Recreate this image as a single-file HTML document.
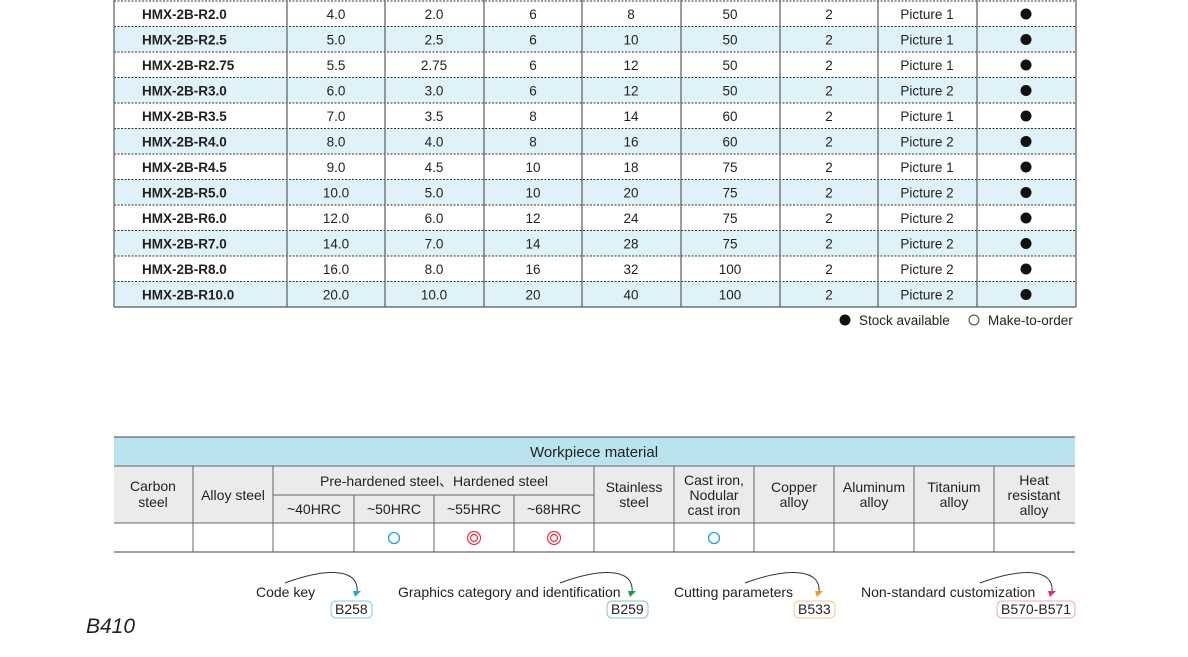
<!DOCTYPE html>
<html><head><meta charset="utf-8"><style>
html,body{margin:0;padding:0;background:#fff;}
svg text{font-family:"Liberation Sans","Noto Sans CJK SC",sans-serif;fill:#231f20;}
</style></head><body>
<svg width="1188" height="652" viewBox="0 0 1188 652" xmlns="http://www.w3.org/2000/svg">
<g id="top">
<!-- rows -->
<g font-size="13.5" text-anchor="middle">
</g>
</g>
<script>
</script>
<!-- top table generated statically -->
<g font-size="13.5">
<rect x="114" y="26.5" width="962" height="25.5" fill="#dff2fa"/>
<rect x="114" y="77.5" width="962" height="25.5" fill="#dff2fa"/>
<rect x="114" y="128.5" width="962" height="25.5" fill="#dff2fa"/>
<rect x="114" y="179.5" width="962" height="25.5" fill="#dff2fa"/>
<rect x="114" y="230.5" width="962" height="25.5" fill="#dff2fa"/>
<rect x="114" y="281.5" width="962" height="25.5" fill="#dff2fa"/>
<g stroke="#333" stroke-width="1" stroke-dasharray="2,1.5">
<line x1="114" x2="1076" y1="1" y2="1"/>
<line x1="114" x2="1076" y1="26.5" y2="26.5"/>
<line x1="114" x2="1076" y1="52" y2="52"/>
<line x1="114" x2="1076" y1="77.5" y2="77.5"/>
<line x1="114" x2="1076" y1="103" y2="103"/>
<line x1="114" x2="1076" y1="128.5" y2="128.5"/>
<line x1="114" x2="1076" y1="154" y2="154"/>
<line x1="114" x2="1076" y1="179.5" y2="179.5"/>
<line x1="114" x2="1076" y1="205" y2="205"/>
<line x1="114" x2="1076" y1="230.5" y2="230.5"/>
<line x1="114" x2="1076" y1="256" y2="256"/>
<line x1="114" x2="1076" y1="281.5" y2="281.5"/>
</g>
<line x1="114" x2="1076" y1="307" y2="307" stroke="#555" stroke-width="1.2"/>
<g stroke="#666" stroke-width="1.3">
<line x1="114" x2="114" y1="0" y2="307"/>
<line x1="287" x2="287" y1="0" y2="307"/>
<line x1="385" x2="385" y1="0" y2="307"/>
<line x1="484" x2="484" y1="0" y2="307"/>
<line x1="582" x2="582" y1="0" y2="307"/>
<line x1="681" x2="681" y1="0" y2="307"/>
<line x1="780" x2="780" y1="0" y2="307"/>
<line x1="878" x2="878" y1="0" y2="307"/>
<line x1="977" x2="977" y1="0" y2="307"/>
<line x1="1076" x2="1076" y1="0" y2="307"/>
</g>
<g font-weight="bold">
<text x="142" y="19">HMX-2B-R2.0</text>
<text x="142" y="44.5">HMX-2B-R2.5</text>
<text x="142" y="70">HMX-2B-R2.75</text>
<text x="142" y="95.5">HMX-2B-R3.0</text>
<text x="142" y="121">HMX-2B-R3.5</text>
<text x="142" y="146.5">HMX-2B-R4.0</text>
<text x="142" y="172">HMX-2B-R4.5</text>
<text x="142" y="197.5">HMX-2B-R5.0</text>
<text x="142" y="223">HMX-2B-R6.0</text>
<text x="142" y="248.5">HMX-2B-R7.0</text>
<text x="142" y="274">HMX-2B-R8.0</text>
<text x="142" y="299.5">HMX-2B-R10.0</text>
</g>
<g text-anchor="middle">
<g transform="translate(0,19)"><text x="336">4.0</text><text x="434">2.0</text><text x="533">6</text><text x="631">8</text><text x="730">50</text><text x="829">2</text><text x="927">Picture 1</text></g>
<g transform="translate(0,44.5)"><text x="336">5.0</text><text x="434">2.5</text><text x="533">6</text><text x="631">10</text><text x="730">50</text><text x="829">2</text><text x="927">Picture 1</text></g>
<g transform="translate(0,70)"><text x="336">5.5</text><text x="434">2.75</text><text x="533">6</text><text x="631">12</text><text x="730">50</text><text x="829">2</text><text x="927">Picture 1</text></g>
<g transform="translate(0,95.5)"><text x="336">6.0</text><text x="434">3.0</text><text x="533">6</text><text x="631">12</text><text x="730">50</text><text x="829">2</text><text x="927">Picture 2</text></g>
<g transform="translate(0,121)"><text x="336">7.0</text><text x="434">3.5</text><text x="533">8</text><text x="631">14</text><text x="730">60</text><text x="829">2</text><text x="927">Picture 1</text></g>
<g transform="translate(0,146.5)"><text x="336">8.0</text><text x="434">4.0</text><text x="533">8</text><text x="631">16</text><text x="730">60</text><text x="829">2</text><text x="927">Picture 2</text></g>
<g transform="translate(0,172)"><text x="336">9.0</text><text x="434">4.5</text><text x="533">10</text><text x="631">18</text><text x="730">75</text><text x="829">2</text><text x="927">Picture 1</text></g>
<g transform="translate(0,197.5)"><text x="336">10.0</text><text x="434">5.0</text><text x="533">10</text><text x="631">20</text><text x="730">75</text><text x="829">2</text><text x="927">Picture 2</text></g>
<g transform="translate(0,223)"><text x="336">12.0</text><text x="434">6.0</text><text x="533">12</text><text x="631">24</text><text x="730">75</text><text x="829">2</text><text x="927">Picture 2</text></g>
<g transform="translate(0,248.5)"><text x="336">14.0</text><text x="434">7.0</text><text x="533">14</text><text x="631">28</text><text x="730">75</text><text x="829">2</text><text x="927">Picture 2</text></g>
<g transform="translate(0,274)"><text x="336">16.0</text><text x="434">8.0</text><text x="533">16</text><text x="631">32</text><text x="730">100</text><text x="829">2</text><text x="927">Picture 2</text></g>
<g transform="translate(0,299.5)"><text x="336">20.0</text><text x="434">10.0</text><text x="533">20</text><text x="631">40</text><text x="730">100</text><text x="829">2</text><text x="927">Picture 2</text></g>
</g>
<g fill="#111">
<circle cx="1026" cy="14" r="5.5"/><circle cx="1026" cy="39.5" r="5.5"/><circle cx="1026" cy="65" r="5.5"/><circle cx="1026" cy="90.5" r="5.5"/><circle cx="1026" cy="116" r="5.5"/><circle cx="1026" cy="141.5" r="5.5"/><circle cx="1026" cy="167" r="5.5"/><circle cx="1026" cy="192.5" r="5.5"/><circle cx="1026" cy="218" r="5.5"/><circle cx="1026" cy="243.5" r="5.5"/><circle cx="1026" cy="269" r="5.5"/><circle cx="1026" cy="294.5" r="5.5"/>
</g>
<circle cx="845" cy="320" r="5.5" fill="#111"/>
<text x="859" y="325">Stock available</text>
<circle cx="974" cy="320" r="5" fill="none" stroke="#444" stroke-width="1"/>
<text x="988" y="325">Make-to-order</text>
</g>

<!-- bottom table -->
<g font-size="14">
<rect x="114" y="437" width="961" height="29" fill="#b9e4ee"/>
<rect x="114" y="466" width="961" height="57" fill="#ebebeb"/>
<line x1="114" x2="1075" y1="437" y2="437" stroke="#666" stroke-width="1.2"/>
<line x1="114" x2="1075" y1="466" y2="466" stroke="#666" stroke-width="1"/>
<line x1="114" x2="1075" y1="523" y2="523" stroke="#666" stroke-width="1"/>
<line x1="114" x2="1075" y1="552" y2="552" stroke="#666" stroke-width="1.2"/>
<line x1="273" x2="594" y1="495" y2="495" stroke="#666" stroke-width="1"/>
<g stroke="#666" stroke-width="1">
<line x1="193" x2="193" y1="466" y2="552"/><line x1="273" x2="273" y1="466" y2="552"/>
<line x1="354" x2="354" y1="495" y2="552"/><line x1="434" x2="434" y1="495" y2="552"/><line x1="514" x2="514" y1="495" y2="552"/>
<line x1="594" x2="594" y1="466" y2="552"/><line x1="674" x2="674" y1="466" y2="552"/><line x1="754" x2="754" y1="466" y2="552"/>
<line x1="834" x2="834" y1="466" y2="552"/><line x1="914" x2="914" y1="466" y2="552"/><line x1="994" x2="994" y1="466" y2="552"/>
</g>
<text x="594" y="457" text-anchor="middle" font-size="15">Workpiece material</text>
<g text-anchor="middle">
<text x="153" y="491">Carbon</text><text x="153" y="507">steel</text>
<text x="233" y="500">Alloy steel</text>
<text x="434" y="486">Pre-hardened steel、Hardened steel</text>
<text x="314" y="514">~40HRC</text><text x="394" y="514">~50HRC</text><text x="474" y="514">~55HRC</text><text x="554" y="514">~68HRC</text>
<text x="634" y="492">Stainless</text><text x="634" y="507">steel</text>
<text x="714" y="485">Cast iron,</text><text x="714" y="500">Nodular</text><text x="714" y="515">cast iron</text>
<text x="794" y="492">Copper</text><text x="794" y="507">alloy</text>
<text x="874" y="492">Aluminum</text><text x="874" y="507">alloy</text>
<text x="954" y="492">Titanium</text><text x="954" y="507">alloy</text>
<text x="1034" y="485">Heat</text><text x="1034" y="500">resistant</text><text x="1034" y="515">alloy</text>
</g>
<circle cx="394" cy="538" r="5.5" fill="none" stroke="#1ea7e1" stroke-width="1.3"/>
<circle cx="714" cy="538" r="5.5" fill="none" stroke="#1ea7e1" stroke-width="1.3"/>
<g fill="none" stroke="#e8313b" stroke-width="1.2"><circle cx="474" cy="538" r="6.5"/><circle cx="474" cy="538" r="3.5"/><circle cx="554" cy="538" r="6.5"/><circle cx="554" cy="538" r="3.5"/></g>
</g>

<!-- references -->
<g font-size="14">
<text x="256" y="597">Code key</text>
<path d="M285 583 C320 570,360 565,357 593" fill="none" stroke="#333"/>
<polygon points="353,591 361,591 355,597" fill="#1ea7e1"/>
<rect x="331" y="601" width="41" height="17" rx="5" fill="none" stroke="#7fcbef"/>
<text x="335" y="614">B258</text>

<text x="398" y="597">Graphics category and identification</text>
<path d="M560 583 C595 570,635 565,632 593" fill="none" stroke="#333"/>
<polygon points="628,591 636,591 630,597" fill="#1a9a4a"/>
<rect x="607" y="601" width="41" height="17" rx="5" fill="none" stroke="#86cda0"/>
<text x="611" y="614">B259</text>

<text x="674" y="597">Cutting parameters</text>
<path d="M745 583 C780 570,822 565,819 593" fill="none" stroke="#333"/>
<polygon points="815,591 823,591 817,597" fill="#f39a21"/>
<rect x="794" y="601" width="41" height="17" rx="5" fill="none" stroke="#f7c78d"/>
<text x="798" y="614">B533</text>

<text x="861" y="597">Non-standard customization</text>
<path d="M980 583 C1015 570,1055 565,1052 593" fill="none" stroke="#333"/>
<polygon points="1048,591 1056,591 1050,597" fill="#e4288a"/>
<rect x="997" y="601" width="78" height="17" rx="5" fill="none" stroke="#f1a3c9"/>
<text x="1001" y="614">B570-B571</text>
</g>
<text x="86" y="633" font-size="21" font-style="italic">B410</text>
</svg>
</body></html>
